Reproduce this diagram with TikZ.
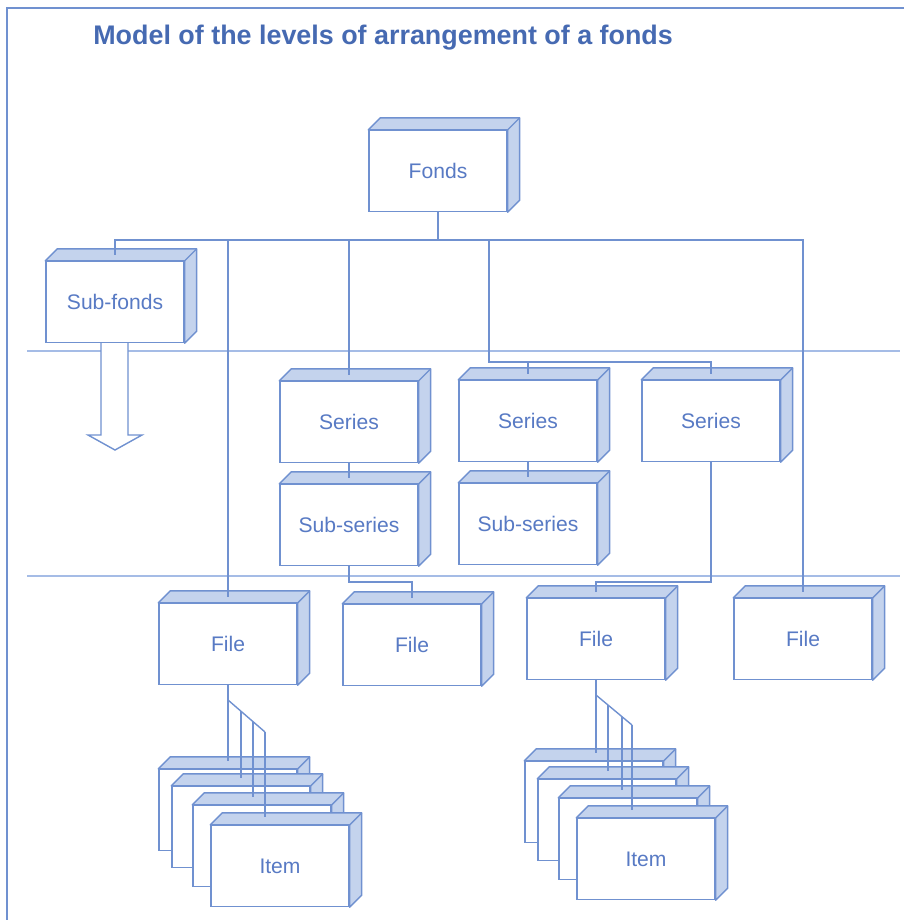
\documentclass[tikz,border=0pt]{standalone}
\usepackage{fontspec}
\setmainfont{Liberation Sans}
\usetikzlibrary{calc}
\definecolor{linec}{RGB}{112,145,208}
\definecolor{facec}{RGB}{196,211,237}
\definecolor{textc}{RGB}{88,122,196}
\definecolor{titlec}{RGB}{70,106,178}
\definecolor{sepc}{RGB}{165,188,230}
\tikzset{
  crate/.style={draw=linec, fill=white, line width=0.8pt, minimum width=2.76cm, minimum height=1.62cm, inner sep=0pt, text=textc, font=\fontsize{12}{14}\selectfont},
  face/.style={draw=linec, fill=facec, line width=0.8pt, line join=round},
  link/.style={draw=linec, line width=0.8pt},
  sep/.style={draw=sepc, line width=1.3pt},
}

\begin{document}
\begin{tikzpicture}[x=0.02cm, y=-0.02cm]
\useasboundingbox (0,0) rectangle (904,920);
\draw[linec, line width=1.2pt] (904,8) -- (7,8) -- (7,920);
\node[anchor=west, inner sep=0pt, text=titlec, font=\fontsize{15.3}{18}\selectfont\bfseries] (title) at (93,38) {Model of the levels of arrangement of a fonds};

% level separators
\draw[sep] (27,351) -- (900,351);
\draw[sep] (27,576) -- (900,576);

% hollow arrow under sub-fonds
\draw[link, fill=white] (101,343) -- (101,435) -- (88,435) -- (115,450) -- (142,435) -- (128,435) -- (128,343);

\node[crate] (fonds) at (438,171) {Fonds};
\node[crate] (subfonds) at (115,302) {Sub-fonds};
\node[crate] (series1) at (349,422) {Series};
\node[crate] (series2) at (528,421) {Series};
\node[crate] (series3) at (711,421) {Series};
\node[crate] (subseries1) at (349,525) {Sub-series};
\node[crate] (subseries2) at (528,524) {Sub-series};
\node[crate] (file1) at (228,644) {File};
\node[crate] (file2) at (412,645) {File};
\node[crate] (file3) at (596,639) {File};
\node[crate] (file4) at (803,639) {File};
\foreach \n in {fonds,subfonds,series1,series2,series3,subseries1,subseries2,file1,file2,file3,file4} {
  \draw[face] (\n.north west) -- ++(12,-12) -- ([shift={(12,-12)}]\n.north east) -- ([shift={(12,-12)}]\n.south east) -- (\n.south east) -- (\n.north east) -- cycle;
  \draw[link] (\n.north east) -- ++(12,-12);
}

% stacks of items
\foreach \n/\x/\y/\txt in {itemLa/228/810/{}, itemLb/241/827/{}, itemLc/262/846/{}, itemLd/280/866/Item,
                          itemRa/594/802/{}, itemRb/607/820/{}, itemRc/628/839/{}, itemRd/646/859/Item} {
  \node[crate] (\n) at (\x,\y) {\txt};
  \draw[face] (\n.north west) -- ++(12,-12) -- ([shift={(12,-12)}]\n.north east) -- ([shift={(12,-12)}]\n.south east) -- (\n.south east) -- (\n.north east) -- cycle;
  \draw[link] (\n.north east) -- ++(12,-12);
}

% connectors
\coordinate (bus) at (438,240);
\draw[link] (fonds.south) -- (fonds.south |- bus);
\draw[link] ($(subfonds.north)+(0,-6)$) -- (subfonds.north |- bus) -- (file4.north |- bus) -- ($(file4.north)+(0,-6)$);
\foreach \n in {file1,series1} \draw[link] (\n.north |- bus) -- ($(\n.north)+(0,-6)$);
\coordinate (split) at (489,362);
\draw[link] (split |- bus) -- (split) -| ($(series3.north)+(0,-6)$);
\draw[link] (series2.north |- split) -- ($(series2.north)+(0,-6)$);
\draw[link] (series1.south) -- ($(subseries1.north)+(0,-6)$);
\draw[link] (series2.south) -- ($(subseries2.north)+(0,-6)$);
\coordinate (lowbus) at (0,582);
\draw[link] (subseries1.south) -- (subseries1.south |- lowbus) -| ($(file2.north)+(0,-6)$);
\draw[link] (series3.south) -- (series3.south |- lowbus) -| ($(file3.north)+(0,-6)$);

% forks to the items
\coordinate (forkL) at (228,700);
\coordinate (forkLe) at (265,732);
\draw[link] (file1.south) -- (forkL) -- ($(forkL |- itemLa.north)+(0,-8)$);
\draw[link] (forkL) -- (forkLe);
\foreach \n/\f in {b/0.35,c/0.68,d/1} {
  \coordinate (tL\n) at ($(forkL)!\f!(forkLe)$);
  \draw[link] (tL\n) -- ($(tL\n |- itemL\n.north)+(0,-8)$);
}
\coordinate (forkR) at (596,695);
\coordinate (forkRe) at (632,725);
\draw[link] (file3.south) -- (forkR) -- ($(forkR |- itemRa.north)+(0,-8)$);
\draw[link] (forkR) -- (forkRe);
\foreach \n/\f in {b/0.33,c/0.72,d/1} {
  \coordinate (tR\n) at ($(forkR)!\f!(forkRe)$);
  \draw[link] (tR\n) -- ($(tR\n |- itemR\n.north)+(0,-8)$);
}
\end{tikzpicture}
\end{document}
